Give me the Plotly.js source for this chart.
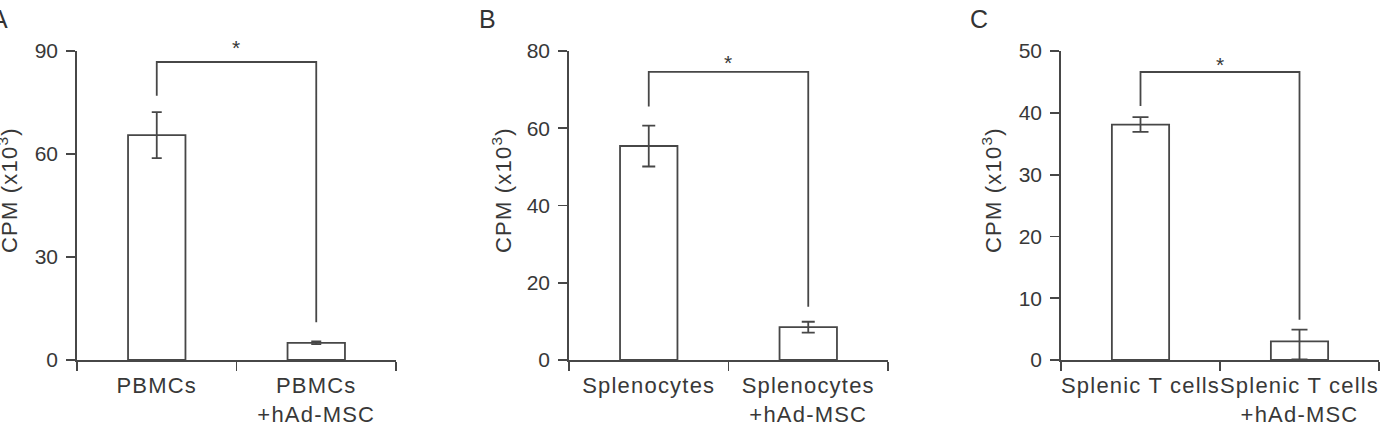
<!DOCTYPE html>
<html>
<head>
<meta charset="utf-8">
<script src="https://cdn.plot.ly/plotly-3.0.1.min.js"></script>
<style>
  html, body { margin: 0; padding: 0; background: #fff; }
  #chart { width: 1388px; height: 431px; }
  .xtick text, .x2tick text, .x3tick text { letter-spacing: 1.2px; }
  .annotation-text { letter-spacing: 1.2px; }
</style>
</head>
<body>
<div id="chart"></div>
<script>
// ---- Data ----
const panelLetters = ['A', 'B', 'C'];

const categoriesA = ['PBMCs', 'PBMCs<br>+hAd-MSC'];
const valuesA = [65.5, 5.0];
const errorsPlusA = [6.7, 0.4];
const errorsMinusA = [6.7, 0.4];
const yTicksA = [0, 30, 60, 90];
const bracketA = [77, 86.8, 11];   // left leg end, top, right leg end
const starA = 91.3;

const categoriesB = ['Splenocytes', 'Splenocytes<br>+hAd-MSC'];
const valuesB = [55.4, 8.5];
const errorsPlusB = [5.3, 1.4];
const errorsMinusB = [5.3, 1.4];
const yTicksB = [0, 20, 40, 60, 80];
const bracketB = [65.6, 74.6, 13.8];
const starB = 77.4;

const categoriesC = ['Splenic T cells', 'Splenic T cells<br>+hAd-MSC'];
const valuesC = [38.1, 3.0];
const errorsPlusC = [1.2, 1.9];
const errorsMinusC = [1.2, 2.9];
const yTicksC = [0, 10, 20, 30, 40, 50];
const bracketC = [41.1, 46.6, 6.5];
const starC = 48.0;

const yTitle = 'CPM (x10<sup>3</sup>)';

// ---- Styling ----
const W = 1388, H = 431;
const INK = '#383838';
const LINE = '#474747';
const FONT = 'Liberation Sans, Arial, Helvetica, sans-serif';

const panels = [
  {cats: categoriesA, vals: valuesA, ep: errorsPlusA, em: errorsMinusA, ticks: yTicksA, br: bracketA, star: starA, left: 77, right: 396, cap: 5, titleX: 8, letterX: 0},
  {cats: categoriesB, vals: valuesB, ep: errorsPlusB, em: errorsMinusB, ticks: yTicksB, br: bracketB, star: starB, left: 569, right: 888, cap: 6.5, titleX: 502, letterX: 488},
  {cats: categoriesC, vals: valuesC, ep: errorsPlusC, em: errorsMinusC, ticks: yTicksC, br: bracketC, star: starC, left: 1061, right: 1379, cap: 8, titleX: 992, letterX: 980}
];

const yBottomPx = 360, yTopPx = 51;
const yDomain = [(H - yBottomPx) / H, (H - yTopPx) / H];

const traces = [];
const layout = {
  width: W, height: H,
  margin: {l: 0, r: 0, t: 0, b: 0, pad: 0},
  paper_bgcolor: '#ffffff',
  plot_bgcolor: 'rgba(0,0,0,0)',
  showlegend: false,
  font: {family: FONT, size: 21, color: INK},
  annotations: []
};

panels.forEach((p, i) => {
  const n = i === 0 ? '' : String(i + 1);
  const xa = 'x' + n, ya = 'y' + n;
  traces.push({
    type: 'bar',
    x: p.cats, y: p.vals,
    xaxis: xa, yaxis: ya,
    width: 0.36,
    marker: {color: '#ffffff', line: {color: LINE, width: 1.8}},
    error_y: {type: 'data', array: p.ep, arrayminus: p.em, symmetric: false, color: LINE, thickness: 1.8, width: p.cap},
    hoverinfo: 'skip'
  });
  traces.push({
    type: 'scatter', mode: 'lines',
    x: [p.cats[0], p.cats[0], p.cats[1], p.cats[1]],
    y: [p.br[0], p.br[1], p.br[1], p.br[2]],
    xaxis: xa, yaxis: ya,
    line: {color: LINE, width: 1.8},
    cliponaxis: false,
    hoverinfo: 'skip'
  });
  const ymax = p.ticks[p.ticks.length - 1];
  layout['xaxis' + n] = {
    domain: [p.left / W, p.right / W],
    anchor: ya,
    type: 'category',
    range: [-0.5, 1.5],
    tickson: 'boundaries',
    ticks: 'outside', ticklen: 9, tickwidth: 1.8, tickcolor: LINE,
    showline: true, linecolor: LINE, linewidth: 1.8,
    showgrid: false, zeroline: false,
    tickfont: {family: FONT, size: 22, color: INK},
    ticklabelstandoff: 5,
    fixedrange: true
  };
  layout['yaxis' + n] = {
    domain: yDomain,
    anchor: xa,
    range: [0, ymax],
    tickmode: 'array', tickvals: p.ticks,
    ticks: 'outside', ticklen: 9, tickwidth: 1.8, tickcolor: LINE,
    showline: true, linecolor: LINE, linewidth: 1.8,
    showgrid: false, zeroline: false,
    tickfont: {family: FONT, size: 21, color: INK},
    ticklabelstandoff: 4,
    fixedrange: true
  };
  layout.annotations.push({
    xref: 'paper', yref: 'paper',
    x: p.titleX / W, y: (H - 190) / H,
    xanchor: 'center', yanchor: 'middle',
    text: yTitle, textangle: -90, showarrow: false,
    font: {family: FONT, size: 22, color: INK}
  });
  layout.annotations.push({
    xref: 'paper', yref: 'paper',
    x: p.letterX / W, y: (H - 19) / H,
    xanchor: 'center', yanchor: 'middle',
    text: panelLetters[i], showarrow: false,
    font: {family: FONT, size: 25, color: '#333333'}
  });
  // significance star, placed in the axis-domain frame so it may sit above the range
  layout.annotations.push({
    xref: xa + ' domain', yref: ya + ' domain',
    x: 0.5, y: p.star / ymax,
    xanchor: 'center', yanchor: 'middle',
    text: '*', showarrow: false, yshift: -1,
    font: {family: FONT, size: 21, color: INK}
  });
});

Plotly.newPlot('chart', traces, layout, {staticPlot: true, displayModeBar: false});
</script>
</body>
</html>
